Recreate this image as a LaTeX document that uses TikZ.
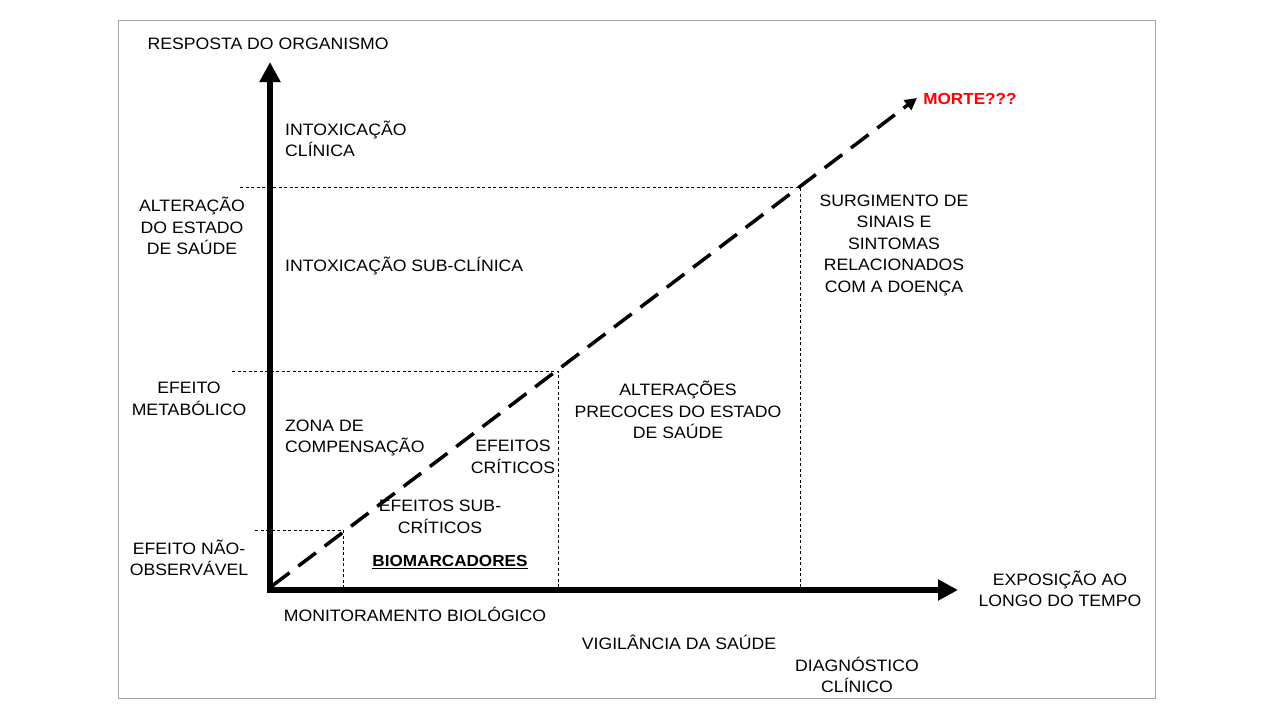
\documentclass[tikz,border=0pt]{standalone}
\usepackage{fontspec}
\setmainfont[FakeStretch=1.07]{Liberation Sans}
\usetikzlibrary{arrows.meta}
\begin{document}
\begin{tikzpicture}[x=1pt,y=-1pt,
 lbl/.style={font=\fontsize{16.5}{21.5}\selectfont,align=center,inner sep=0pt},
 guide/.style={line width=1pt,dash pattern=on 3pt off 2.5pt},
 axis/.style={line width=5.5pt,-{Triangle[length=20pt,width=20pt]}}]
\useasboundingbox (0,0) rectangle (1280,720);
\draw[gray!70,line width=0.8pt] (118,20) rectangle (1155,698);
\coordinate (o) at (270,590);
\coordinate (ytop) at (270,62);
\coordinate (xend) at (958,590);
\draw[guide] (255,530) -- (343,530) -- (343,590);
\draw[guide] (232,371) -- (558,371) -- (558,590);
\draw[guide] (240,187) -- (800,187) -- (800,590);
\draw[axis] (270,593) -- (ytop);
\draw[axis] (267,590) -- (xend);
\coordinate (dend) at (917,98);
\draw[line width=3.5pt,dash pattern=on 22pt off 11pt,-{Triangle[length=12pt,width=12pt]}] (272,586) -- (dend);
\node[lbl] (t1) at (268,44) {RESPOSTA DO ORGANISMO};
\node[lbl,text=red,font=\fontsize{16}{20}\selectfont\bfseries] (t2) at (970,99) {MORTE???};
\node[lbl,align=left,anchor=west] (t3) at (285,139) {INTOXICAÇÃO\\CLÍNICA};
\node[lbl] (t4) at (192,226) {ALTERAÇÃO\\DO ESTADO\\DE SAÚDE};
\node[lbl,anchor=west] (t5) at (285,266) {INTOXICAÇÃO SUB-CLÍNICA};
\node[lbl] (t6) at (894,245) {SURGIMENTO DE\\SINAIS E\\SINTOMAS\\RELACIONADOS\\COM A DOENÇA};
\node[lbl] (t7) at (189,399) {EFEITO\\METABÓLICO};
\node[lbl] (t8) at (678,410) {ALTERAÇÕES\\PRECOCES DO ESTADO\\DE SAÚDE};
\node[lbl,align=left,anchor=west] (t9) at (285,438) {ZONA DE\\COMPENSAÇÃO};
\node[lbl] (t10) at (513,457) {EFEITOS\\CRÍTICOS};
\node[lbl] (t11) at (440,517) {EFEITOS SUB-\\CRÍTICOS};
\node[lbl,font=\fontsize{16}{20}\selectfont\bfseries] (t12) at (450,562) {\underline{BIOMARCADORES}};
\node[lbl] (t13) at (189,558) {EFEITO NÃO-\\OBSERVÁVEL};
\node[lbl] (t14) at (1060,589) {EXPOSIÇÃO AO\\LONGO DO TEMPO};
\node[lbl] (t15) at (415,614) {MONITORAMENTO BIOLÓGICO};
\node[lbl] (t16) at (679,642) {VIGILÂNCIA DA SAÚDE};
\node[lbl] (t17) at (857,675) {DIAGNÓSTICO\\CLÍNICO};
\end{tikzpicture}
\end{document}
